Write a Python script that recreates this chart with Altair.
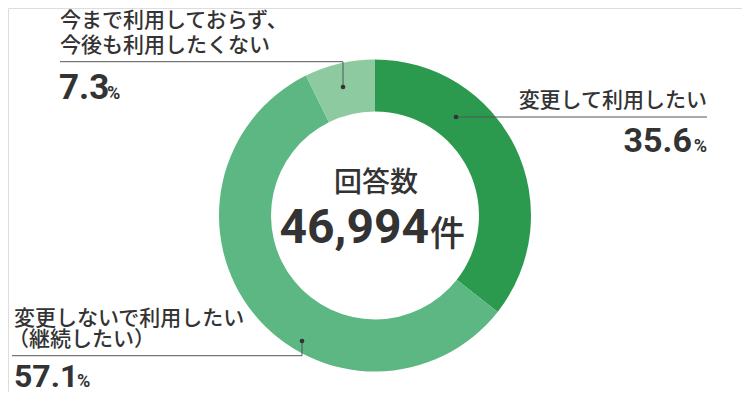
import altair as alt
import pandas as pd

categories = ["変更して利用したい", "変更しないで利用したい（継続したい）", "今まで利用しておらず、今後も利用したくない"]
values = [35.6, 57.1, 7.3]
value_labels = ["35.6", "57.1", "7.3"]
colors = ["#2b9a4f", "#5db782", "#8dcaa0"]
center_title = "回答数"
center_value = "46,994"
center_unit = "件"
label_lines_1 = ["変更して利用したい"]
label_lines_2 = ["変更しないで利用したい", "（継続したい）"]
label_lines_3 = ["今まで利用しておらず、", "今後も利用したくない"]

df = pd.DataFrame({"cat": categories, "value": values, "order": [0, 1, 2]})

JP = "Noto Sans CJK JP"
NUM = "Roboto"
TXT = "#333333"
LINE = "#555555"

CX, CY = 367, 207.5

arc = alt.Chart(df).mark_arc(outerRadius=156, innerRadius=104).encode(
    theta=alt.Theta("value:Q", stack=True),
    order=alt.Order("order:Q"),
    color=alt.Color("cat:N", scale=alt.Scale(domain=categories, range=colors), legend=None),
    x=alt.value(CX),
    y=alt.value(CY),
)

one = pd.DataFrame({"k": [0]})

def txt(s, x, y, size, align="left", baseline="middle", font=JP, weight="normal"):
    return alt.Chart(pd.DataFrame({"t": [s]})).mark_text(
        align=align, baseline=baseline, fontSize=size, font=font, fontWeight=weight, color=TXT
    ).encode(text="t:N", x=alt.value(x), y=alt.value(y))

def rule(x1, x2, y1, y2):
    return alt.Chart(one).mark_rule(color=LINE, strokeWidth=1).encode(
        x=alt.value(x1), x2=alt.value(x2), y=alt.value(y1), y2=alt.value(y2))

def dot(x, y):
    return alt.Chart(one).mark_point(filled=True, size=22, color="#333333", opacity=1).encode(
        x=alt.value(x), y=alt.value(y))

layers = [arc]

# label 1 (35.6%)
layers += [
    rule(448, 699, 109, 109), dot(448, 109),
    txt(label_lines_1[0], 699, 93, 21, align="right", weight=500),
    txt(value_labels[0], 684, 143.5, 34, align="right", baseline="alphabetic", font=NUM, weight="bold"),
    txt("%", 699, 143.5, 18, align="right", baseline="alphabetic", font=NUM, weight="bold"),
]
# label 3 (7.3%)
layers += [
    rule(335, 335, 53.7, 79), rule(52, 335, 53.7, 53.7), dot(335, 79),
    txt(label_lines_3[0], 52, 13, 21, weight=500),
    txt(label_lines_3[1], 52, 38, 21, weight=500),
    txt(value_labels[2], 51, 90.5, 35, baseline="alphabetic", font=NUM, weight="bold"),
    txt("%", 99, 90.5, 18, baseline="alphabetic", font=NUM, weight="bold"),
]
# label 2 (57.1%)
layers += [
    rule(294, 294, 333, 347.7), rule(4, 294, 347.7, 347.7), dot(294, 333),
    txt(label_lines_2[0], 6, 310.5, 21, weight=500),
    txt(label_lines_2[1], 0, 332, 21, weight=500),
    txt(value_labels[1], 6, 379, 32, baseline="alphabetic", font=NUM, weight="bold"),
    txt("%", 69, 379, 18, baseline="alphabetic", font=NUM, weight="bold"),
]
# center
layers += [
    txt(center_title, 368, 176, 28, align="center", weight=500),
    txt(center_value, 421, 235, 48, align="right", baseline="alphabetic", font=NUM, weight="bold"),
    txt(center_unit, 422, 238, 35, baseline="alphabetic", weight=500),
]

chart = alt.layer(*layers).properties(
    width=734, height=384, autosize=alt.AutoSizeParams(type="none"), padding=0
).configure_view(stroke=None).configure(background="white")

chart.save("out.html", embed_options={"renderer": "svg", "actions": False})
